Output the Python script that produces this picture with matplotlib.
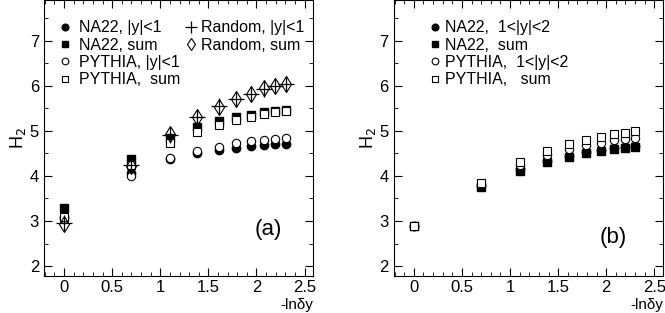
import matplotlib.pyplot as plt
from matplotlib.ticker import MultipleLocator

plt.rcParams['font.family'] = ['Liberation Sans', 'DejaVu Sans']

# x = -ln(dy)
X = [0.0, 0.693, 1.099, 1.386, 1.609, 1.792, 1.946, 2.079, 2.197, 2.303]

# panel (a), |y|<1
NA22_a = [3.10, 4.07, 4.38, 4.50, 4.58, 4.63, 4.66, 4.68, 4.70, 4.71]
NA22_sum_a = [3.30, 4.38, 4.85, 5.08, 5.22, 5.30, 5.36, 5.41, 5.44, 5.47]
PYTHIA_a = [3.05, 4.00, 4.40, 4.56, 4.65, 4.72, 4.77, 4.80, 4.82, 4.84]
PYTHIA_sum_a = [3.10, 4.25, 4.72, 4.98, 5.13, 5.24, 5.31, 5.37, 5.41, 5.45]
Random_a = [2.95, 4.25, 4.90, 5.30, 5.55, 5.70, 5.82, 5.93, 5.99, 6.03]
Random_sum_a = [2.93, 4.22, 4.93, 5.30, 5.53, 5.70, 5.82, 5.94, 6.00, 6.03]

# panel (b), 1<|y|<2
NA22_b = [2.88, 3.78, 4.15, 4.33, 4.45, 4.52, 4.57, 4.61, 4.64, 4.66]
NA22_sum_b = [2.88, 3.75, 4.12, 4.31, 4.42, 4.50, 4.55, 4.59, 4.62, 4.65]
PYTHIA_b = [2.88, 3.83, 4.25, 4.47, 4.60, 4.68, 4.74, 4.79, 4.82, 4.85]
PYTHIA_sum_b = [2.88, 3.85, 4.30, 4.55, 4.70, 4.80, 4.87, 4.92, 4.96, 4.99]

fig = plt.figure(figsize=(6.65, 3.13), dpi=100)
axA = fig.add_axes([0.066, 0.118, 0.405, 0.882])
axB = fig.add_axes([0.592, 0.118, 0.405, 0.882])


def style(ax, tag, tx, ty):
    ax.set_xlim(-0.21, 2.59)
    ax.set_ylim(1.78, 7.9)
    ax.xaxis.set_major_locator(MultipleLocator(0.5))
    ax.xaxis.set_minor_locator(MultipleLocator(0.1))
    ax.yaxis.set_major_locator(MultipleLocator(1))
    ax.yaxis.set_minor_locator(MultipleLocator(0.5))
    ax.tick_params(which='both', direction='in', top=True, right=True, labelsize=12)
    ax.tick_params(which='major', length=6)
    ax.tick_params(which='minor', length=3)
    ax.tick_params(axis='x', pad=2.5)
    ax.xaxis.set_major_formatter(plt.FuncFormatter(lambda v, p: ('%g' % v)))
    ax.text(1.0, -0.106, '-ln\u03b4y', transform=ax.transAxes, fontsize=11,
            ha='right', va='center')
    ax.set_ylabel('H$_2$', fontsize=13, labelpad=1)
    ax.text(tx, ty, tag, transform=ax.transAxes, fontsize=16, ha='right', va='center')


def leg(ax, handles, x0, pad=0.4):
    return ax.legend(handles=handles, loc='upper left', frameon=False, fontsize=11.5,
                     handlelength=0.7, handletextpad=pad, labelspacing=0.15,
                     markerscale=0.8, borderaxespad=0, bbox_to_anchor=(x0, 0.95))


ms = 6
a1, = axA.plot(X, NA22_a, 'o', color='black', ms=ms, label='NA22, |y|<1')
a2, = axA.plot(X, NA22_sum_a, 's', color='black', ms=ms, label='NA22, sum')
a3, = axA.plot(X, PYTHIA_a, 'o', mfc='white', mec='black', ms=ms, mew=0.8, label='PYTHIA, |y|<1')
a4, = axA.plot(X, PYTHIA_sum_a, 's', mfc='white', mec='black', ms=ms, mew=0.8, label='PYTHIA,  sum')
a5, = axA.plot(X, Random_a, '+', color='black', ms=11, mew=0.9, label='Random, |y|<1')
a6, = axA.plot(X, Random_sum_a, 'd', mfc='none', mec='black', ms=8, mew=0.8, label='Random, sum')
style(axA, '(a)', 0.885, 0.17)
l1 = leg(axA, [a1, a2, a3, a4], 0.035, 0.5)
axA.add_artist(l1)
leg(axA, [a5, a6], 0.5, 0.3)

b1, = axB.plot(X, NA22_b, 'o', color='black', ms=ms, label='NA22,  1<|y|<2')
b2, = axB.plot(X, NA22_sum_b, 's', color='black', ms=ms, label='NA22,  sum')
b3, = axB.plot(X, PYTHIA_b, 'o', mfc='white', mec='black', ms=ms, mew=0.8, label='PYTHIA,  1<|y|<2')
b4, = axB.plot(X, PYTHIA_sum_b, 's', mfc='white', mec='black', ms=ms, mew=0.8, label='PYTHIA,   sum')
style(axB, '(b)', 0.866, 0.138)
leg(axB, [b1, b2, b3, b4], 0.11, 0.25)

fig.savefig('out.png', dpi=100)
